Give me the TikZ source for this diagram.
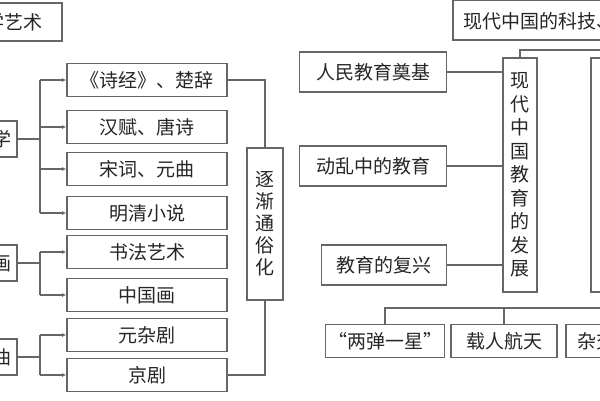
\documentclass[tikz,border=0pt]{standalone}
\usepackage{fontspec}
\setmainfont{Noto Sans CJK SC}
\usetikzlibrary{arrows.meta}
\begin{document}
\begin{tikzpicture}[x=1pt,y=-1pt,
  bx/.style={draw=gray!80!black,line width=1.8pt,fill=white,inner sep=0pt,minimum height=33pt,font=\fontsize{19}{20}\selectfont,text=black!85},
  ln/.style={draw=gray!80!black,line width=1.8pt},
  ar/.style={ln,-{Latex[length=4pt,width=4pt]}}]
\useasboundingbox (0,0) rectangle (600,400);
\clip (0,0) rectangle (600,400);
% left
\node[bx,minimum width=72pt,minimum height=38pt] (art) at (26,22) {};
\node[anchor=east,font=\fontsize{19}{20}\selectfont,text=black!85] (artt) at (46,22) {文学艺术};
\node[bx,minimum width=28pt,minimum height=36pt] (wx) at (3,139) {};
\node[anchor=east,font=\fontsize{19}{20}\selectfont,text=black!85] (wxt) at (15,139) {文学};
\node[bx,minimum width=28pt,minimum height=36pt] (sh) at (3,263) {};
\node[anchor=east,font=\fontsize{19}{20}\selectfont,text=black!85] (sht) at (15,263) {书画};
\node[bx,minimum width=28pt,minimum height=36pt] (xq) at (3,357) {};
\node[anchor=east,font=\fontsize{19}{20}\selectfont,text=black!85] (xqt) at (15,357) {戏曲};
\foreach \n/\y/\t in {a/80/{《诗经》、楚辞},b/127/{汉赋、唐诗},c/169/{宋词、元曲},d/213/{明清小说},e/252/{书法艺术},f/295/{中国画},g/335/{元杂剧},h/375/{京剧}}
  \node[bx,minimum width=160pt] (\n) at (147,\y) {\t};
\node[bx,minimum width=36pt,minimum height=152pt,text width=20pt,align=center,font=\fontsize{19}{22}\selectfont] (tsh) at (265,224) {逐\\渐\\通\\俗\\化};
\draw[ln] (wx.east) -- (40,139);
\draw[ln] (40,80) -- (40,213);
\foreach \n in {a,b,c,d} \draw[ar] (40,0 |- \n.west) -- (\n.west);
\draw[ln] (sh.east) -- (40,263);
\draw[ln] (40,252) -- (40,295);
\foreach \n in {e,f} \draw[ar] (40,0 |- \n.west) -- (\n.west);
\draw[ln] (xq.east) -- (40,357);
\draw[ln] (40,335) -- (40,375);
\foreach \n in {g,h} \draw[ar] (40,0 |- \n.west) -- (\n.west);
\draw[ln] (a.east) -| (tsh.north);
\draw[ln] (h.east) -| (tsh.south);
% right
\node[bx,minimum width=180pt,minimum height=40pt] (top) at (543,20) {};
\node[anchor=west,font=\fontsize{19}{20}\selectfont,text=black!85] (topt) at (460,21) {现代中国的科技、教育与文化};
\node[bx,minimum width=147pt,minimum height=40pt] (p1) at (373,72) {人民教育奠基};
\node[bx,minimum width=147pt,minimum height=40pt] (p2) at (373,166) {动乱中的教育};
\node[bx,minimum width=125pt,minimum height=40pt] (p3) at (384,265) {教育的复兴};
\node[bx,minimum width=34pt,minimum height=234pt,text width=20pt,align=center,font=\fontsize{19}{23.5}\selectfont] (jy) at (520,175) {现\\代\\中\\国\\教\\育\\的\\发\\展};
\node[bx,minimum width=34pt,minimum height=234pt] (kj) at (608,175) {};
\foreach \n in {p1,p2,p3} \draw[ln] (\n.east) -- (\n.east -| jy.west);
\coordinate (tr) at (605,50);
\draw[ln] (jy.north) -- (520,50) -- (tr);
\node[bx,minimum width=119pt] (q1) at (385,341) {“两弹一星”};
\node[bx,minimum width=106pt] (q2) at (504,341) {载人航天};
\node[bx,minimum width=100pt,anchor=west] (q3) at (565,341) {杂交水稻};
\coordinate (br) at (605,308);
\draw[ln] (q1.north) -- (385,308) -- (br);
\draw[ln] (q2.north) -- (504,308);
\end{tikzpicture}
\end{document}
